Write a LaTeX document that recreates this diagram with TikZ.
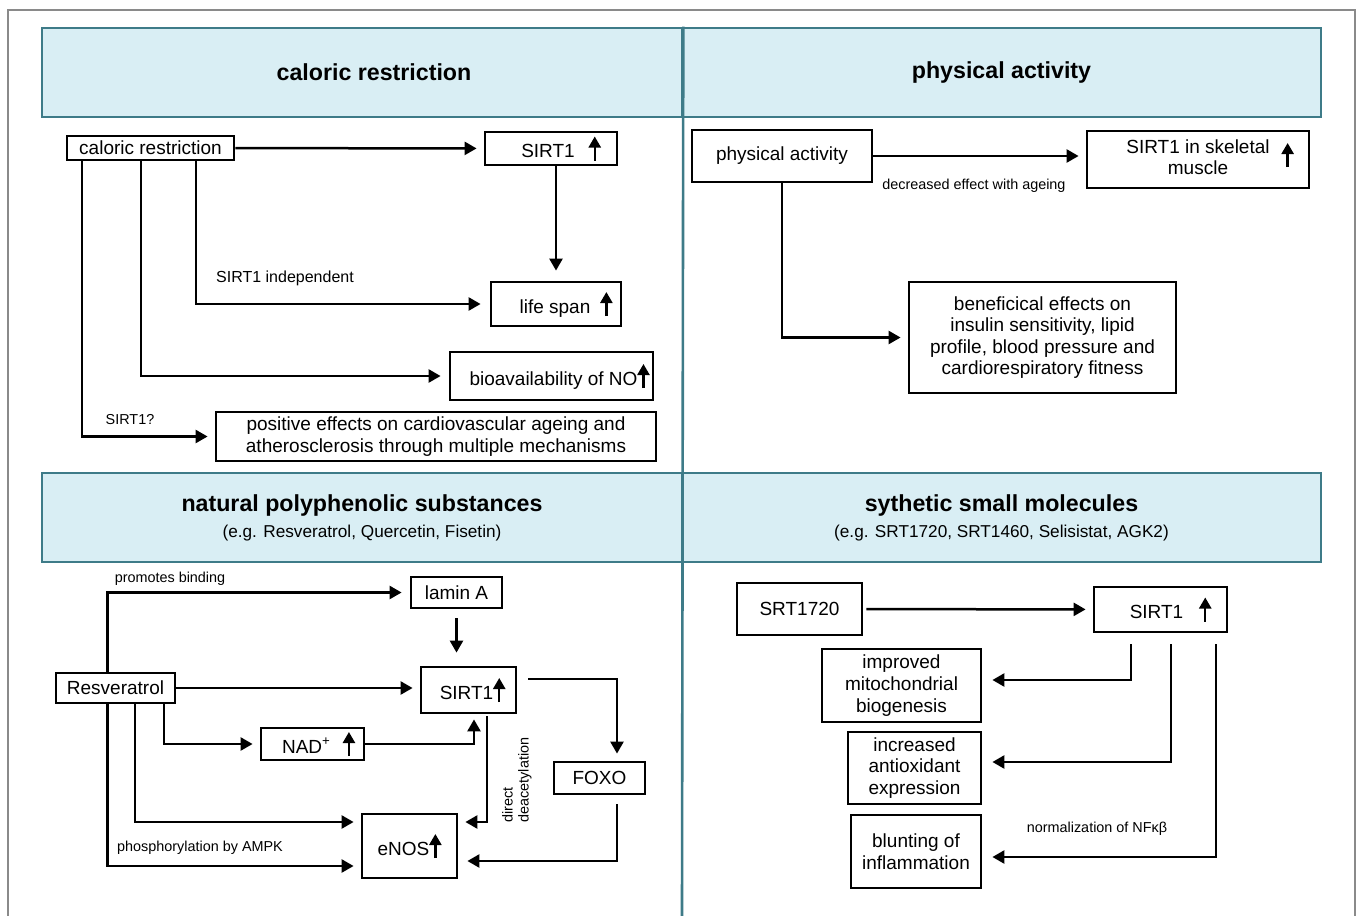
\documentclass[tikz,border=0pt]{standalone}
\usepackage{fontspec}
\setmainfont{Liberation Sans}
\usetikzlibrary{arrows.meta,positioning,calc}

\definecolor{hdrFill}{HTML}{D9EEF4}
\definecolor{hdrLine}{HTML}{3E7B88}
\definecolor{frameGray}{HTML}{8A8A8A}

\newcommand{\uparr}{\tikz[baseline=0pt]\draw[line width=1.2pt,-{Triangle[length=5.5pt,width=6pt]}] (0pt,-1.5pt) -- (0pt,10.5pt);}
\newcommand{\ttlfont}{\fontsize{11.6}{14}\selectfont\bfseries}
\newcommand{\subfont}{\fontsize{8.6}{10}\selectfont}

\begin{document}
\begin{tikzpicture}[x=0.5pt, y=-0.5pt,
  box/.style={draw, line width=1.4pt, inner sep=1pt, align=center,
              font=\fontsize{9.5}{10.8}\selectfont},
  hdr/.style={draw=hdrLine, fill=hdrFill, line width=1.3pt,
              minimum height=44.5pt, align=center, inner sep=0pt},
  arr/.style={line width=1.25pt, -{Triangle[length=6pt,width=6.5pt]}, shorten >=3.5pt},
  lbl/.style={font=\fontsize{7.2}{8}\selectfont, inner sep=0pt},
]
  \useasboundingbox (0,0) rectangle (1357,916);

  % Frame and headers
  \draw[frameGray, line width=1pt] (8,916) |- (1355,10) -- (1355,916);
  \node[hdr, minimum width=320pt] (crHead) at (362,72.5)
    {\hspace{12pt}\ttlfont caloric restriction};
  \node[hdr, minimum width=319.5pt] (paHead) at (1001.5,72.5)
    {\ttlfont physical activity};
  \node[hdr, minimum width=320pt] (npHead) at (362,517.5)
    {\ttlfont natural polyphenolic substances\\[1pt]
     \subfont (e.g. Resveratrol, Quercetin, Fisetin)};
  \node[hdr, minimum width=319.5pt] (smHead) at (1001.5,517.5)
    {\ttlfont sythetic small molecules\\[1pt]
     \subfont (e.g. SRT1720, SRT1460, Selisistat, AGK2)};
  \coordinate (divEnd) at (682,916);
  \draw[hdrLine, line width=1.3pt] (crHead.north east) -- (divEnd);

  % Caloric restriction
  \node[box, minimum width=83.5pt, minimum height=12pt] (cr) at (150.5,148)
    {caloric restriction};
  \node[box, minimum width=66pt, minimum height=16.5pt] (sirtA) at (551,148.5)
    {\hspace{10pt}SIRT1\hspace{7pt}\uparr};
  \node[box, minimum width=65pt, minimum height=22pt] (life) at (556,304)
    {\hspace{10pt}life span\hspace{5pt}\uparr};
  \node[box, minimum width=101.5pt, minimum height=24pt] (bio) at (551.5,376)
    {\hspace{8pt}bioavailability of NO\uparr};
  \node[box, minimum width=220pt, minimum height=24.5pt] (pos) at (436,436.5)
    {positive effects on cardiovascular ageing and\\
     atherosclerosis through multiple mechanisms};

  \draw[arr] (cr) -- (sirtA);
  \draw[arr, shorten >=5pt] (sirtA.south -| life.north) -- (life.north);
  \draw[arr, shorten >=4.5pt] ([xshift=22.75pt]cr.south) |- (life.west);
  \draw[arr, shorten >=4pt] ([xshift=-4.75pt]cr.south) |- (bio.west);
  \draw[arr] ([xshift=-34.25pt]cr.south) |- (pos.west);
  \node[lbl, font=\fontsize{8}{9}\selectfont] (lblIndep) at (285,278) {SIRT1 independent};
  \node[lbl] (lblQ) at (130,420) {SIRT1?};

  % Physical activity
  \node[box, minimum width=90pt, minimum height=26pt] (pa) at (782,156)
    {physical activity};
  \node[box, minimum width=111pt, minimum height=28.5pt] (skel) at (1198,159.5)
    {\hspace{12pt}\begin{tabular}{@{}c@{}}SIRT1 in skeletal\\muscle\end{tabular}\hspace{6pt}\uparr};
  \node[box, minimum width=133.5pt, minimum height=55.5pt] (bene) at (1042.5,337.5)
    {beneficical effects on\\ insulin sensitivity, lipid\\
     profile, blood pressure and\\ cardiorespiratory fitness};

  \draw[arr] (pa.east) -- (pa.east -| skel.west);
  \draw[arr] (pa.south) |- (bene.west);
  \node[lbl] (lblAge) at (974,186) {decreased effect with ageing};

  % Natural polyphenolic substances
  \node[box, minimum width=59.5pt, minimum height=15pt] (res) at (115.5,688)
    {Resveratrol};
  \node[box, minimum width=45.5pt, minimum height=15.5pt] (lamin) at (456.5,592.5)
    {lamin A};
  \node[box, minimum width=47.5pt, minimum height=23pt] (sirtB) at (468.5,690)
    {\hspace{4pt}SIRT1\uparr};
  \node[box, minimum width=51.5pt, minimum height=16pt] (nad) at (312.5,744)
    {\hspace{6pt}NAD\textsuperscript{+}\hspace{6pt}\uparr};
  \node[box, minimum width=47.5pt, minimum height=32pt] (enos) at (409.5,846)
    {eNOS\uparr};
  \node[box, minimum width=45.5pt, minimum height=16pt] (foxo) at (599.5,778)
    {FOXO};

  \draw[arr, shorten >=4pt] ([xshift=-4pt]res.north) |- (lamin.west);
  \draw[arr, shorten <=4.5pt, shorten >=6.5pt] (lamin.south) -- (lamin.south |- sirtB.north);
  \draw[arr] (res.east) -- (res.east -| sirtB.west);
  \draw[arr] ([xshift=24.25pt]res.south) |- (nad.west);
  \draw[arr, shorten >=2.5pt] (nad.east) -| ([xshift=2.75pt]sirtB.south);
  \draw[arr] ([xshift=9.75pt]res.south) |- ([yshift=12pt]enos.west);
  \draw[arr] ([xshift=-4pt]res.south) |- ([yshift=-10pt]enos.west);
  \draw[arr] ([xshift=9.25pt,yshift=-1pt]sirtB.south) |- ([yshift=12pt]enos.east);
  \draw[arr] ([xshift=5.5pt,yshift=5.5pt]sirtB.east) -| ([xshift=8.75pt]foxo.north);
  \draw[arr, shorten >=4.5pt] ([xshift=8.75pt,yshift=-4.5pt]foxo.south) |- ([yshift=-7.5pt]enos.east);
  \node[lbl] (lblBind) at (170,579) {promotes binding};
  \node[lbl] (lblAmpk) at (200,848) {phosphorylation by AMPK};
  \node[lbl, rotate=90, align=left] (lblDeac) at (517,780) {direct\\deacetylation};

  % Synthetic small molecules
  \node[box, minimum width=62.5pt, minimum height=26pt] (srt) at (799.5,609)
    {SRT1720};
  \node[box, minimum width=66.5pt, minimum height=22.5pt] (sirtC) at (1160.5,609.5)
    {\hspace{10pt}SIRT1\hspace{8pt}\uparr};
  \node[box, minimum width=79.5pt, minimum height=36.5pt] (mito) at (901.5,685.5)
    {improved\\ mitochondrial\\ biogenesis};
  \node[box, minimum width=66.5pt, minimum height=36pt] (anti) at (914.5,768)
    {increased\\ antioxidant\\ expression};
  \node[box, minimum width=65pt, minimum height=36.5pt] (blunt) at (916,851.5)
    {blunting of\\ inflammation};

  \draw[arr, shorten <=1.5pt] (srt) -- (sirtC);
  \draw[arr, shorten >=5pt] ([xshift=-14.75pt,yshift=-5.5pt]sirtC.south) |- ([yshift=2.75pt]mito.east);
  \draw[arr, shorten >=5pt] ([xshift=5.25pt,yshift=-5.5pt]sirtC.south) |- ([yshift=3pt]anti.east);
  \draw[arr, shorten >=5pt] ([xshift=27.75pt,yshift=-5.5pt]sirtC.south) |- ([yshift=-2.75pt]blunt.east);
  \node[lbl] (lblNfkb) at (1097,829) {normalization of NFκβ};
\end{tikzpicture}
\end{document}
